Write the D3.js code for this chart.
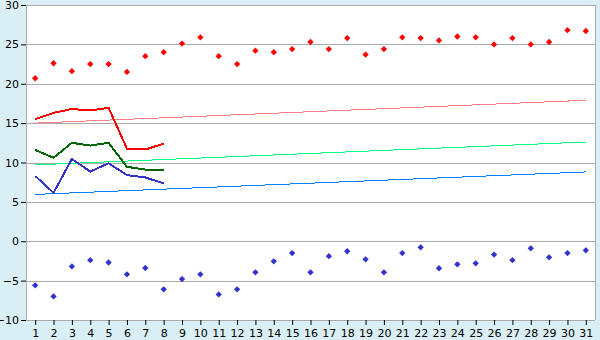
<!DOCTYPE html>
<html>
<head>
    <meta charset="utf-8">
    <script src="https://d3js.org/d3.v7.min.js"></script>
    <style>
        body { margin: 0; background: #daeff5; }
        svg { display: block; }
    </style>
</head>
<body>
<svg id="chart"></svg>
<script>
    // days of the month
    var days = d3.range(1, 32);
    var yTicks = [-10, -5, 0, 5, 10, 15, 20, 25, 30];

    // daily maxima / minima (diamonds)
    var maxTemps = [20.7, 22.6, 21.6, 22.5, 22.5, 21.5, 23.5, 24.0, 25.1, 25.9,
                    23.5, 22.5, 24.2, 24.0, 24.4, 25.3, 24.4, 25.8, 23.7, 24.4,
                    25.9, 25.8, 25.5, 26.0, 25.9, 25.0, 25.8, 25.0, 25.3, 26.8, 26.7];
    var minTemps = [-5.6, -7.0, -3.2, -2.4, -2.7, -4.2, -3.4, -6.1, -4.8, -4.2,
                    -6.75, -6.1, -3.95, -2.55, -1.5, -3.95, -1.9, -1.27, -2.3, -3.95,
                    -1.5, -0.77, -3.43, -2.93, -2.8, -1.69, -2.4, -0.9, -2.04, -1.5, -1.15];

    // observed days 1-8
    var obsDays = [1, 2, 3, 4, 5, 6, 7, 8];
    var obsMax = [15.5, 16.3, 16.8, 16.6, 16.95, 11.75, 11.65, 12.4];
    var obsMean = [11.6, 10.6, 12.5, 12.15, 12.5, 9.45, 9.1, 9.05];
    var obsMin = [8.3, 6.15, 10.45, 8.85, 9.9, 8.4, 8.1, 7.35];

    // normals (start / end of month)
    var normDays = [1, 31];
    var normMax = [15.0, 17.9];
    var normMean = [9.7, 12.6];
    var normMin = [5.95, 8.8];

    var width = 600, height = 340;
    var margin = { top: 5, right: 5, bottom: 20, left: 26 };
    var innerWidth = width - margin.left - margin.right;
    var innerHeight = height - margin.top - margin.bottom;

    var svg = d3.select('#chart')
        .attr('width', width)
        .attr('height', height);

    var chart = svg.append('g')
        .attr('transform', 'translate(' + margin.left + ',' + margin.top + ')');

    var xScale = d3.scalePoint()
        .domain(days)
        .range([0, innerWidth])
        .padding(0.5);

    var yScale = d3.scaleLinear()
        .domain([-10, 30])
        .range([innerHeight, 0]);

    chart.append('rect')
        .attr('width', innerWidth)
        .attr('height', innerHeight)
        .attr('fill', '#ffffff');

    // grid
    chart.selectAll('.grid')
        .data(yTicks)
        .enter()
        .append('line')
        .attr('x1', 0)
        .attr('x2', innerWidth)
        .attr('y1', function(d) { return Math.round(yScale(d)) + 0.5; })
        .attr('y2', function(d) { return Math.round(yScale(d)) + 0.5; })
        .attr('stroke', '#aaaaaa');

    chart.append('line')
        .attr('x1', innerWidth + 0.5).attr('x2', innerWidth + 0.5)
        .attr('y1', 0).attr('y2', innerHeight)
        .attr('stroke', '#aaaaaa');
    chart.append('line')
        .attr('x1', 0.5).attr('x2', 0.5)
        .attr('y1', 0).attr('y2', innerHeight)
        .attr('stroke', '#aaaaaa');

    // axes
    var xAxis = chart.append('g')
        .attr('transform', 'translate(0,' + innerHeight + ')')
        .call(d3.axisBottom(xScale).tickSize(5).tickPadding(4));
    xAxis.select('.domain').remove();

    var yAxis = chart.append('g')
        .call(d3.axisLeft(yScale).tickValues(yTicks).tickSize(5).tickPadding(2)
            .tickFormat(function(d) { return d < 0 ? '\u2212' + Math.abs(d) : d; }));
    yAxis.select('.domain').remove();

    chart.selectAll('.tick text')
        .attr('font-family', 'DejaVu Sans, Verdana, sans-serif')
        .attr('font-size', '11px')
        .attr('fill', '#000');

    var line = d3.line()
        .x(function(d) { return xScale(d[0]); })
        .y(function(d) { return yScale(d[1]); });

    function drawLine(xs, ys, color, w) {
        chart.append('path')
            .datum(xs.map(function(x, i) { return [x, ys[i]]; }))
            .attr('d', line)
            .attr('fill', 'none')
            .attr('stroke', color)
            .attr('stroke-width', w)
            .attr('shape-rendering', 'crispEdges');
    }

    drawLine(normDays, normMax, '#ff8080', 1);
    drawLine(normDays, normMean, '#00ff80', 1);
    drawLine(normDays, normMin, '#0080ff', 1);

    drawLine(obsDays, obsMax, '#ff0000', 2);
    drawLine(obsDays, obsMean, '#006400', 2);
    drawLine(obsDays, obsMin, '#3333cc', 2);

    // square diamond marker
    var diamondSym = {
        draw: function(ctx, size) {
            var r = Math.sqrt(size) / 2;
            ctx.moveTo(0, -r); ctx.lineTo(r, 0); ctx.lineTo(0, r); ctx.lineTo(-r, 0); ctx.closePath();
        }
    };
    var diamond = d3.symbol().type(diamondSym).size(40);

    function drawDots(vals, color) {
        chart.append('g')
            .selectAll('path')
            .data(vals)
            .enter()
            .append('path')
            .attr('d', diamond)
            .attr('transform', function(d, i) {
                return 'translate(' + xScale(days[i]) + ',' + yScale(d) + ')';
            })
            .attr('fill', color);
    }

    drawDots(maxTemps, '#ff0000');
    drawDots(minTemps, '#3333cc');
</script>
</body>
</html>
